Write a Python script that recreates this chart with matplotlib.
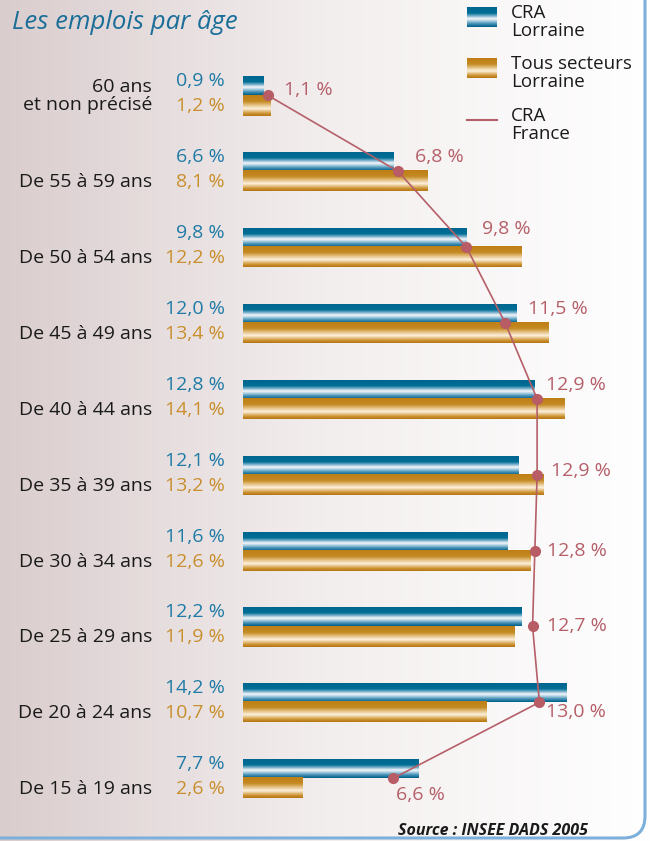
import numpy as np
import matplotlib
matplotlib.use('Agg')
import matplotlib.pyplot as plt
from matplotlib.colors import LinearSegmentedColormap
from matplotlib.patches import FancyBboxPatch

# Données
categories = ['60 ans\net non précisé', 'De 55 à 59 ans', 'De 50 à 54 ans', 'De 45 à 49 ans',
              'De 40 à 44 ans', 'De 35 à 39 ans', 'De 30 à 34 ans', 'De 25 à 29 ans',
              'De 20 à 24 ans', 'De 15 à 19 ans']
cra_lorraine = [0.9, 6.6, 9.8, 12.0, 12.8, 12.1, 11.6, 12.2, 14.2, 7.7]
tous_secteurs = [1.2, 8.1, 12.2, 13.4, 14.1, 13.2, 12.6, 11.9, 10.7, 2.6]
cra_france = [1.1, 6.8, 9.8, 11.5, 12.9, 12.9, 12.8, 12.7, 13.0, 6.6]

# décalage des étiquettes de la courbe (pixels)
offsets_france = [(16, 5), (17, 14), (16, 18), (23, 14), (9, 14), (14, 4), (12, 0), (14, 0), (7, -10), (3, -17)]

plt.rcParams['font.family'] = ['Open Sans', 'DejaVu Sans']

BLEU = '#1f7ba6'
OR = '#c88f2c'
ROUGE = '#b55f69'
TAILLE = 13.5

grad_bleu = LinearSegmentedColormap.from_list('b', [
    (0, '#00668f'), (0.3, '#006e96'), (0.45, '#7fb3cc'), (0.58, '#f4f8fa'),
    (0.7, '#a9cde0'), (0.85, '#3f8db3'), (1, '#005f88')])
grad_or = LinearSegmentedColormap.from_list('o', [
    (0, '#bf7f16'), (0.3, '#c48a22'), (0.5, '#e8c890'), (0.65, '#fbf1de'),
    (0.78, '#e3bb78'), (0.9, '#c88d28'), (1, '#b57515')])


def degrade(cmap):
    return cmap(np.linspace(0, 1, 64))[:, None, :3]


def pct(v):
    return f'{v:.1f} %'.replace('.', ',')


fig = plt.figure(figsize=(6.51, 8.41), dpi=100)

# fond dégradé + cadre
bg = fig.add_axes([0, 0, 1, 1], zorder=-1)
fond = LinearSegmentedColormap.from_list('f', ['#dacdce', '#f3eeee', '#ffffff'])
bg.imshow(fond(np.linspace(0, 1, 256))[None, :, :3], extent=(0, 651, 841, 0), aspect='auto')
bg.add_patch(FancyBboxPatch((-40, -40), 685, 878, boxstyle='round,pad=0,rounding_size=22',
                            fill=False, ec='#7cb0da', lw=2.2))

bg.text(12, 22, 'Les emplois par âge', fontsize=18.5, style='italic', color='#1a6e98',
        va='center', ha='left')
bg.text(588, 831, 'Source : INSEE DADS 2005', fontsize=11.5, style='italic', weight='bold',
        color='#1a1a1a', va='center', ha='right')

# légende
bg.imshow(degrade(grad_bleu), extent=(467, 497, 27, 7), aspect='auto')
bg.imshow(degrade(grad_or), extent=(467, 497, 78, 58), aspect='auto')
bg.plot([467, 497], [120, 120], color=ROUGE, lw=1.5)
for ty, txt in ((4, 'CRA\nLorraine'), (55, 'Tous secteurs\nLorraine'), (107, 'CRA\nFrance')):
    bg.text(511, ty, txt, fontsize=TAILLE, va='top', linespacing=1.0, color='#1a1a1a')
bg.set_xlim(0, 651)
bg.set_ylim(841, 0)
bg.axis('off')

# graphique
ax = fig.add_axes([243 / 651, 1 - 810 / 841, 397 / 651, 750 / 841])
ax.patch.set_alpha(0)
y = np.arange(len(categories))
h_b, h_o = 0.25, 0.265
barres_b = ax.barh(y - h_b / 2, cra_lorraine, height=h_b, color='none')
barres_o = ax.barh(y + h_o / 2, tous_secteurs, height=h_o, color='none')
for barres, cmap in ((barres_b, grad_bleu), (barres_o, grad_or)):
    for r in barres:
        x0, y0 = r.get_x(), r.get_y()
        ax.imshow(degrade(cmap), extent=(x0, x0 + r.get_width(), y0 + r.get_height(), y0),
                  aspect='auto', zorder=2)

ax.plot(cra_france, y, color=ROUGE, lw=1.2, marker='o', ms=7, mfc='#b85c66', mec='#b85c66', zorder=4)

for i in range(len(categories)):
    dy_lab = -1 if i == 0 else -11
    ax.annotate(categories[i], (0, y[i]), xytext=(-91, dy_lab), textcoords='offset pixels',
                ha='right', va='center', fontsize=14, color='#1a1a1a', linespacing=1.0,
                annotation_clip=False)
    ax.annotate(pct(cra_lorraine[i]), (0, y[i]), xytext=(-18, 14),
                textcoords='offset pixels', ha='right', va='center', fontsize=14, color=BLEU,
                annotation_clip=False)
    ax.annotate(pct(tous_secteurs[i]), (0, y[i]), xytext=(-18, -11),
                textcoords='offset pixels', ha='right', va='center', fontsize=14, color=OR,
                annotation_clip=False)
    dx, dy = offsets_france[i]
    ax.annotate(pct(cra_france[i]), (cra_france[i], y[i]), xytext=(dx, dy),
                textcoords='offset pixels', ha='left', va='center', fontsize=14, color=ROUGE,
                annotation_clip=False)

ax.set_xlim(0, 397 / 22.8)
ax.set_ylim(9.42, -0.468)
ax.axis('off')

fig.savefig('out.png', dpi=100)
